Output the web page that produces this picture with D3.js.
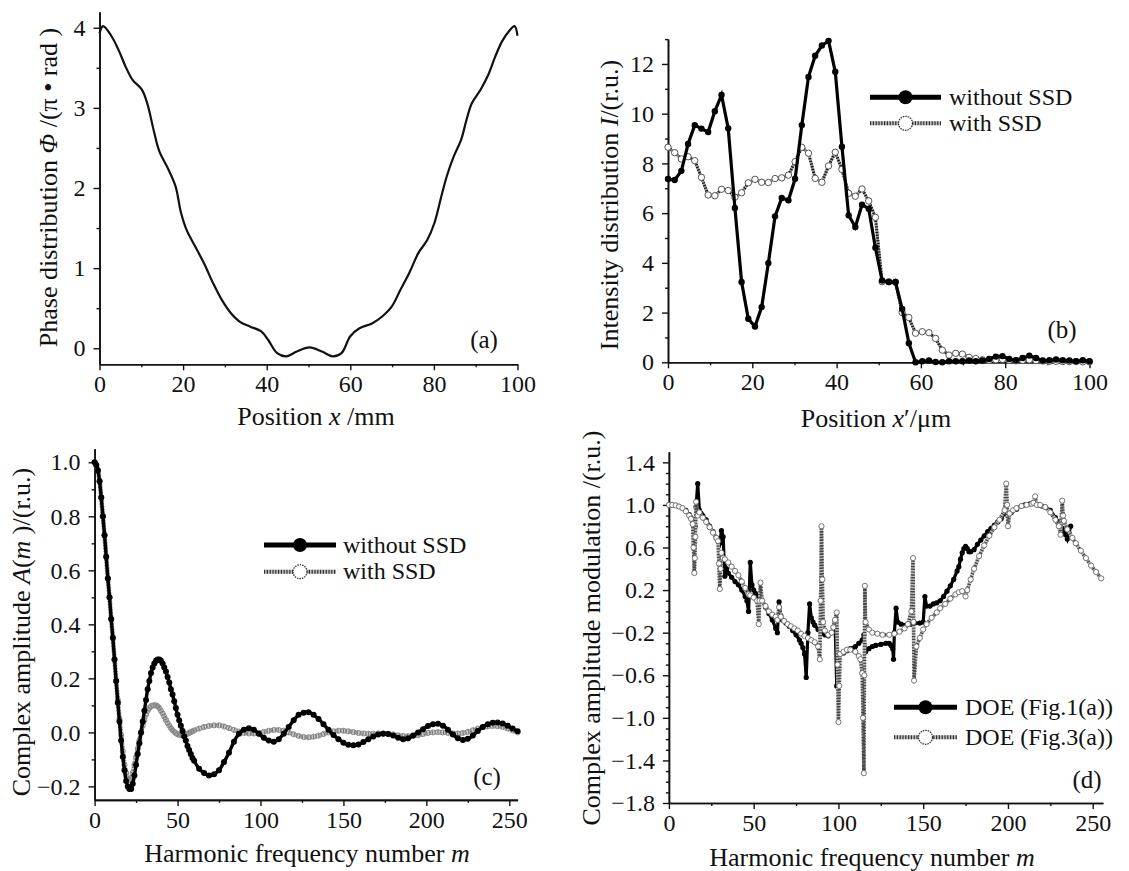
<!DOCTYPE html>
<html><head><meta charset="utf-8">
<script src="https://cdn.jsdelivr.net/npm/d3@7"></script>
<style>
body{margin:0;background:#fff}
svg{display:block}
text{font-family:"Liberation Serif","Times New Roman",serif;fill:#111}
</style>
</head><body>
<svg id="c" width="1129" height="871"></svg>
<script>
// ---------- Panel (a): phase distribution ----------
const aPos = [0,0.85,2.8,4.5,6.2,7.9,10.1,11.4,13.1,14.3,16.5,18.2,19.5,20.8,22.9,25.0,27.2,29.3,31.4,33.6,36.1,38.7,40.4,42.5,44.7,47.2,50.2,53.2,55.8,57.9,60.0,62.2,65.2,67.7,69.9,72.0,74.1,76.3,78.4,80.1,81.8,83.1,84.8,86.5,87.8,89.1,91.2,92.9,94.6,96.3,98.0,99.3,100];
const aPhase = [3.93,4.02,3.9,3.73,3.52,3.35,3.23,3.06,2.69,2.46,2.23,2.02,1.69,1.48,1.27,1.06,0.81,0.60,0.44,0.33,0.27,0.21,0.10,-0.06,-0.10,-0.04,0.01,-0.04,-0.10,-0.06,0.15,0.25,0.31,0.40,0.52,0.73,0.94,1.19,1.35,1.56,1.90,2.15,2.40,2.60,2.85,3.06,3.23,3.40,3.63,3.83,3.96,4.02,3.9];
const aXTicks = [0,20,40,60,80,100];
const aYTicks = [0,1,2,3,4];

// ---------- Panel (b): intensity distribution (64 samples over 0..100 um) ----------
const bCount = 64;
const bNoSSD = [7.37,7.33,7.7,8.78,9.54,9.4,9.26,10.1,10.75,9.41,6.21,3.23,1.75,1.44,2.22,3.99,5.87,6.61,6.52,7.38,9.54,11.48,12.33,12.74,12.93,11.69,8.67,5.91,5.44,6.34,6.18,4.61,3.29,3.23,3.23,2.15,0.77,0.0,0.04,0.07,0.01,0.0,0.04,0.04,0.04,0.07,0.04,0.07,0.13,0.23,0.25,0.13,0.08,0.17,0.27,0.17,0.07,0.08,0.11,0.08,0.07,0.04,0.08,0.04];
const bSSD = [8.65,8.43,8.18,8.27,8.11,7.44,6.73,6.70,6.96,6.91,6.64,6.82,7.22,7.36,7.24,7.23,7.39,7.42,7.53,8.07,8.65,8.41,7.40,7.24,7.90,8.45,7.76,6.80,6.68,6.97,6.49,5.83,3.24,3.24,3.22,2.0,1.80,1.17,1.23,1.19,0.96,0.49,0.29,0.36,0.33,0.2,0.15,0.1,0.08,0.1,0.12,0.08,0.06,0.08,0.1,0.07,0.05,0.04,0.04,0.03,0.03,0.03,0.02,0.02];
const bXTicks = [0,20,40,60,80,100];
const bYTicks = [0,2,4,6,8,10,12];

// ---------- Panel (c): complex amplitude A(m) ----------
const cHarm = d3.range(0,61).concat(d3.range(63,256,3));
const cNoSSD = [1.00,0.99,0.97,0.93,0.87,0.80,0.73,0.65,0.57,0.50,0.42,0.35,0.27,0.19,0.11,0.04,-0.03,-0.09,-0.14,-0.18,-0.20,-0.21,-0.21,-0.19,-0.16,-0.12,-0.08,-0.04,0.00,0.04,0.08,0.12,0.16,0.19,0.22,0.24,0.255,0.265,0.27,0.27,0.265,0.255,0.24,0.225,0.205,0.185,0.16,0.14,0.115,0.09,0.065,0.045,0.025,0.005,-0.015,-0.03,-0.05,-0.065,-0.08,-0.095,-0.105,
 -0.135,-0.15,-0.16,-0.155,-0.14,-0.11,-0.075,-0.035,-0.005,0.01,0.015,0.01,-0.005,-0.02,-0.03,-0.035,-0.025,-0.005,0.02,0.045,0.065,0.073,0.075,0.065,0.05,0.03,0.01,-0.01,-0.025,-0.038,-0.046,-0.048,-0.045,-0.036,-0.025,-0.015,-0.008,-0.005,-0.006,-0.012,-0.02,-0.025,-0.022,-0.012,0.0,0.012,0.024,0.03,0.032,0.025,0.01,-0.008,-0.022,-0.028,-0.024,-0.012,0.005,0.02,0.03,0.036,0.037,0.033,0.025,0.014,0.004];
const cSSD = [1.0,0.99,0.97,0.93,0.87,0.80,0.73,0.65,0.57,0.50,0.42,0.35,0.27,0.19,0.12,0.05,-0.01,-0.07,-0.12,-0.15,-0.17,-0.175,-0.17,-0.15,-0.12,-0.09,-0.06,-0.03,0.0,0.025,0.045,0.065,0.08,0.09,0.097,0.10,0.10,0.10,0.097,0.09,0.08,0.07,0.058,0.046,0.035,0.025,0.016,0.008,0.002,-0.003,-0.007,-0.009,-0.01,-0.01,-0.009,-0.008,-0.005,-0.002,0.001,0.004,0.007,
 0.014,0.02,0.024,0.026,0.026,0.022,0.016,0.009,0.003,-0.002,-0.004,-0.004,-0.002,0.002,0.006,0.009,0.009,0.006,0.0,-0.007,-0.013,-0.017,-0.018,-0.016,-0.012,-0.006,0.0,0.004,0.006,0.006,0.004,0.001,-0.002,-0.004,-0.005,-0.005,-0.004,-0.004,-0.005,-0.008,-0.011,-0.013,-0.014,-0.013,-0.01,-0.006,-0.002,0.0,0.001,0.0,-0.002,-0.004,-0.004,-0.002,0.002,0.008,0.014,0.019,0.022,0.024,0.023,0.02,0.014,0.007,0.0];
const cXTicks = [0,50,100,150,200,250];
const cYTicks = [-0.2,0,0.2,0.4,0.6,0.8,1.0];

// ---------- Panel (d): complex amplitude modulation ----------
const dHarm1 = [0,2,4,6,8,10,12,13,14,15,15.5,16,17,18,19,20,22,24,26,28,29,30,31,32,33,34,35,37,39,41,43,45,46,47,48,49,50,51,52,53,54,55,57,59,61,63,64,65,66,67,69,71,73,75,77,78,79,80,81,82,83,84,85,86,88,90,92,94,96,97,98,99,100,101,103,105,107,110,112,114,115,116,118,120,122,125,128,130,131,132,132.5,133,134,135,137,140,143,145,148,150,151,152,154,156,158,160,162,164,166,168,170,171,172,173,174,175,176,177,178,180,182,184,186,188,190,192,194,196,198,199,200,202,205,208,210,213,215,218,220,222,225,228,230,231,232,233,234,235,236,237];
const dFig1 = [1.0,1.0,0.995,0.985,0.97,0.95,0.91,0.88,0.84,0.64,0.80,0.98,1.2,0.95,0.92,0.90,0.86,0.80,0.75,0.69,0.67,0.64,0.76,0.70,0.33,0.40,0.36,0.32,0.28,0.25,0.2,0.14,0.1,0.0,0.46,0.25,0.2,0.17,0.15,0.13,0.11,0.1,0.04,-0.02,-0.08,-0.16,-0.2,0.09,-0.04,-0.08,-0.11,-0.14,-0.18,-0.22,-0.27,-0.30,-0.34,-0.40,-0.62,-0.2,0.07,-0.06,-0.1,-0.13,-0.17,-0.2,-0.22,-0.23,-0.2,-0.15,-0.1,-0.7,-0.45,-0.4,-0.39,-0.37,-0.35,-0.33,-0.3,-0.27,-0.22,-0.38,-0.35,-0.33,-0.32,-0.31,-0.3,-0.3,-0.32,-0.35,-0.45,-0.2,0.03,-0.1,-0.12,-0.13,-0.12,-0.11,-0.11,-0.1,0.14,0.05,0.05,0.07,0.08,0.1,0.14,0.19,0.24,0.3,0.38,0.42,0.49,0.55,0.59,0.61,0.59,0.56,0.56,0.58,0.63,0.67,0.71,0.75,0.78,0.81,0.84,0.87,0.92,1.0,0.9,0.93,0.96,0.99,1.0,1.01,1.02,1.0,0.99,0.98,0.95,0.88,0.84,0.82,0.78,0.75,0.72,0.68,0.74,0.8];
const dHarm3 = [0,2,4,6,8,10,12,13,14,14.5,15,15.3,15.6,16,17,18,20,22,24,26,28,29,29.5,30,30.5,31,32,33,35,37,39,41,43,45,47,48,50,52,53,53.5,54,55,57,59,61,63,64,65,66,68,70,72,74,76,78,80,82,84,86,88,89,89.5,90,90.5,91,92,94,96,97,98,99,99.5,100,100.5,101,103,105,107,110,112,113,114,114.5,115,115.3,115.6,116,118,120,123,126,130,133,136,139,141,143,144,144.3,144.6,146,148,150,152,155,158,160,163,166,169,171,173,175,176,178,180,183,186,189,192,195,198,199,199.5,200,201,203,205,208,211,214,215,216,217,219,222,225,228,230,231,232,232.5,233,235,238,240,243,246,249,252,255];
const dFig3 = [1.0,1.0,0.995,0.985,0.97,0.94,0.9,0.87,0.82,0.6,0.36,0.5,0.7,1.03,0.9,0.93,0.88,0.84,0.79,0.74,0.69,0.66,0.45,0.21,0.4,0.55,0.5,0.49,0.46,0.42,0.38,0.34,0.28,0.22,0.16,0.15,0.13,0.1,-0.12,0.1,0.27,0.1,0.05,0.0,-0.03,-0.05,-0.08,0.04,-0.05,-0.09,-0.12,-0.14,-0.16,-0.18,-0.21,-0.23,-0.25,-0.27,-0.29,-0.33,-0.45,0.1,0.8,0.3,-0.1,-0.18,-0.22,-0.2,-0.15,-0.08,-0.01,-0.5,-1.04,-0.7,-0.4,-0.38,-0.36,-0.36,-0.38,-0.42,-0.45,-0.58,-1.0,-1.52,-0.6,0.24,-0.1,-0.17,-0.2,-0.21,-0.22,-0.22,-0.21,-0.19,-0.16,-0.12,0.0,0.5,-0.1,-0.65,-0.33,-0.25,-0.17,-0.12,-0.06,-0.01,0.03,0.07,0.12,0.16,0.18,0.19,0.14,0.2,0.3,0.4,0.52,0.62,0.71,0.79,0.86,0.95,1.2,1.0,0.8,0.92,0.95,0.97,0.99,1.0,1.01,1.02,1.08,1.0,1.0,0.98,0.93,0.86,0.8,0.72,1.04,0.9,0.85,0.77,0.69,0.64,0.57,0.5,0.43,0.37,0.31];
const dXTicks = [0,50,100,150,200,250];
const dYTicks = [-1.8,-1.4,-1.0,-0.6,-0.2,0.2,0.6,1.0,1.4];

// ---------- drawing ----------
const svg = d3.select('#c');
const TICKFONT = 24, TITLEFONT = 26, LEGFONT = 24;
const fmtDec = d => (d < 0 ? '\u2212' : '') + Math.abs(d).toFixed(1);

function panel(c) {
  const x = d3.scaleLinear().domain(c.xd).range([c.l, c.r]);
  const y = d3.scaleLinear().domain(c.yd).range([c.b, c.t]);
  const g = svg.append('g');
  const ax = (gen) => gen.tickSizeOuter(0);
  g.append('g').attr('transform', `translate(0,${c.b})`)
    .call(ax(d3.axisBottom(x).tickValues(c.xMinor).tickSize(3).tickFormat('')));
  g.append('g').attr('transform', `translate(${c.l},0)`)
    .call(ax(d3.axisLeft(y).tickValues(c.yMinor).tickSize(3).tickFormat('')));
  g.append('g').attr('class','xa').attr('transform', `translate(0,${c.b})`)
    .call(ax(d3.axisBottom(x).tickValues(c.xMajor).tickSize(6).tickPadding(5).tickFormat(c.xf || d3.format('d'))));
  g.append('g').attr('class','ya').attr('transform', `translate(${c.l},0)`)
    .call(ax(d3.axisLeft(y).tickValues(c.yMajor).tickSize(6).tickPadding(8).tickFormat(c.yf || d3.format('d'))));
  g.selectAll('.domain').attr('stroke', '#111').attr('stroke-width', 1.6);
  g.selectAll('.tick line').attr('stroke', '#111').attr('stroke-width', 1.4);
  g.selectAll('.tick text').attr('font-size', TICKFONT).attr('font-family', '"Liberation Serif",serif').attr('fill', '#111');
  return { x, y, g };
}

function hatchPath(g, d, w, light, dark) {
  g.append('path').attr('d', d).attr('fill', 'none').attr('stroke', light).attr('stroke-width', w).attr('stroke-linejoin','round');
  g.append('path').attr('d', d).attr('fill', 'none').attr('stroke', dark).attr('stroke-width', w).attr('stroke-dasharray', '1.2,1.6');
}

function title(txt, x, y, rot, parts) {
  const t = svg.append('text').attr('font-size', TITLEFONT).attr('text-anchor', 'middle')
    .attr('transform', rot ? `translate(${x},${y}) rotate(-90)` : `translate(${x},${y})`)
    .attr('dominant-baseline', rot ? 'central' : 'auto');
  parts.forEach(p => t.append('tspan').attr('font-style', p[1] ? 'italic' : 'normal').text(p[0]));
}

function legend(x1, x2, xt, ys, labels) {
  const cx = (x1 + x2) / 2;
  const g = svg.append('g');
  g.append('line').attr('x1', x1).attr('x2', x2).attr('y1', ys[0]).attr('y2', ys[0]).attr('stroke', '#000').attr('stroke-width', 5);
  g.append('circle').attr('cx', cx).attr('cy', ys[0]).attr('r', 7).attr('fill', '#000');
  hatchPath(g, `M${x1},${ys[1]}H${x2}`, 4, '#bbb', '#333');
  g.append('circle').attr('cx', cx).attr('cy', ys[1]).attr('r', 7).attr('fill', '#fff').attr('stroke', '#333').attr('stroke-width', 1.3).attr('stroke-dasharray', '1.5,1');
  labels.forEach((l, i) => g.append('text').attr('x', xt).attr('y', ys[i]).attr('dy', '0.32em').attr('font-size', LEGFONT).text(l));
}

function panelLabel(t, x, y) {
  svg.append('text').attr('x', x).attr('y', y).attr('text-anchor', 'middle').attr('font-size', TICKFONT + 1).text(t);
}

// Panel (a)
{
  const P = panel({ l: 99.5, r: 517.5, b: 364.3, t: 11.7, xd: [0, 100], yd: [-0.2, 4.2],
    xMajor: aXTicks, xMinor: [10, 30, 50, 70, 90], yMajor: aYTicks, yMinor: [0.5, 1.5, 2.5, 3.5] });
  const line = d3.line().x((d, i) => P.x(aPos[i])).y(d => P.y(d)).curve(d3.curveCatmullRom.alpha(0.5));
  P.g.append('path').attr('d', line(aPhase)).attr('fill', 'none').attr('stroke', '#111').attr('stroke-width', 2.2);
  title('', 48, 187.5, true, [['Phase distribution '], ['\u03A6', true], [' /(\u03C0 \u2022 rad )']]);
  title('', 316, 425, false, [['Position '], ['x', true], [' /mm']]);
  panelLabel('(a)', 484, 348);
}

// Panel (b)
{
  const P = panel({ l: 668, r: 1089.5, b: 362.3, t: 39.1, xd: [0, 100], yd: [0, 13],
    xMajor: bXTicks, xMinor: [10, 30, 50, 70, 90], yMajor: bYTicks, yMinor: [1, 3, 5, 7, 9, 11, 13] });
  const pos = d3.range(bCount).map(i => i * 100 / (bCount - 1));
  const line = d3.line().x((d, i) => P.x(pos[i])).y(d => P.y(d));
  hatchPath(P.g, line(bSSD), 3, '#999', '#111');
  P.g.selectAll('.ossd').data(bSSD).join('circle').attr('cx', (d, i) => P.x(pos[i])).attr('cy', d => P.y(d))
    .attr('r', 3.2).attr('fill', '#fff').attr('stroke', '#555').attr('stroke-width', 1);
  P.g.append('path').attr('d', line(bNoSSD)).attr('fill', 'none').attr('stroke', '#000').attr('stroke-width', 3.2);
  P.g.selectAll('.nssd').data(bNoSSD).join('circle').attr('cx', (d, i) => P.x(pos[i])).attr('cy', d => P.y(d))
    .attr('r', 3.2).attr('fill', '#000');
  legend(870, 941, 949, [97.3, 123.3], ['without SSD', 'with SSD']);
  title('', 609, 205, true, [['Intensity distribution '], ['I', true], ['/(r.u.)']]);
  title('', 876, 427, false, [['Position '], ['x', true], ['\u2032/\u03BCm']]);
  panelLabel('(b)', 1062, 338);
}

// Panel (c)
{
  const P = panel({ l: 94.6, r: 517.6, b: 799.9, t: 448.8, xd: [0, 255], yd: [-0.25, 1.05],
    xMajor: cXTicks, xMinor: [25, 75, 125, 175, 225], yMajor: cYTicks, yMinor: [-0.1, 0.1, 0.3, 0.5, 0.7, 0.9], yf: fmtDec });
  const line = d3.line().x((d, i) => P.x(cHarm[i])).y(d => P.y(d)).curve(d3.curveCatmullRom);
  hatchPath(P.g, line(cSSD), 4.5, '#ccc', '#777');
  P.g.selectAll('.ossd').data(cSSD).join('circle').attr('cx', (d, i) => P.x(cHarm[i])).attr('cy', d => P.y(d))
    .attr('r', 2.6).attr('fill', 'none').attr('stroke', '#888').attr('stroke-width', 0.9);
  P.g.append('path').attr('d', line(cNoSSD)).attr('fill', 'none').attr('stroke', '#000').attr('stroke-width', 3.4);
  P.g.selectAll('.nssd').data(cNoSSD).join('circle').attr('cx', (d, i) => P.x(cHarm[i])).attr('cy', d => P.y(d))
    .attr('r', 3).attr('fill', '#000');
  legend(264, 336, 343, [545, 571.7], ['without SSD', 'with SSD']);
  title('', 21.4, 632, true, [['Complex amplitude '], ['A', true], ['('], ['m', true], [' )/(r.u.)']]);
  title('', 307, 862, false, [['Harmonic frequency number '], ['m', true]]);
  panelLabel('(c)', 487, 785);
}

// Panel (d)
{
  const P = panel({ l: 668.9, r: 1102.9, b: 803, t: 451.7, xd: [0, 256], yd: [-1.8, 1.5],
    xMajor: dXTicks, xMinor: [25, 75, 125, 175, 225],
    yMajor: dYTicks, yMinor: d3.range(-17, 15).filter(k => (k + 18) % 4 !== 0).map(k => k / 10), yf: fmtDec });
  const l1 = d3.line().x((d, i) => P.x(dHarm1[i])).y(d => P.y(d));
  const l3 = d3.line().x((d, i) => P.x(dHarm3[i])).y(d => P.y(d));
  P.g.append('path').attr('d', l1(dFig1)).attr('fill', 'none').attr('stroke', '#000').attr('stroke-width', 3.2);
  P.g.selectAll('.f1').data(dFig1).join('circle').attr('cx', (d, i) => P.x(dHarm1[i])).attr('cy', d => P.y(d))
    .attr('r', 2.6).attr('fill', '#000');
  hatchPath(P.g, l3(dFig3), 3.6, '#bbb', '#444');
  P.g.selectAll('.f3').data(dFig3).join('circle').attr('cx', (d, i) => P.x(dHarm3[i])).attr('cy', d => P.y(d))
    .attr('r', 2.6).attr('fill', '#fff').attr('stroke', '#666').attr('stroke-width', 0.9);
  legend(894, 957, 965, [707.3, 737.3], ['DOE (Fig.1(a))', 'DOE (Fig.3(a))']);
  title('', 590.8, 628, true, [['Complex amplitude modulation /(r.u.)']]);
  title('', 872, 866, false, [['Harmonic frequency number '], ['m', true]]);
  panelLabel('(d)', 1087, 788);
}
</script>
</body></html>
